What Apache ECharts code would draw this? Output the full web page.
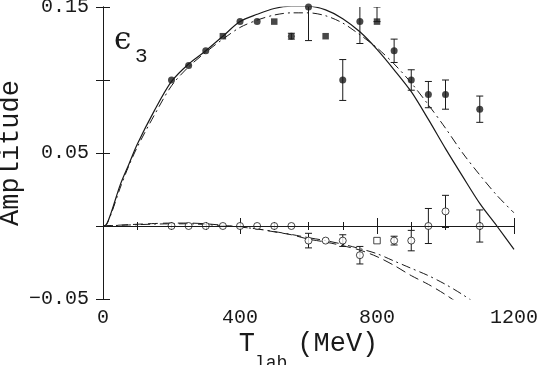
<html lang="en">
<head>
  <meta charset="UTF-8">
  <title>epsilon 3 amplitude</title>
  <style>
    html, body { margin: 0; padding: 0; background: #fff; }
    #chart { width: 538px; height: 365px; }
  </style>
</head>
<body>
  <div id="chart"></div>
  <script src="https://cdn.jsdelivr.net/npm/echarts@6/dist/echarts.min.js"></script>
  <script>
    // model curves (T_lab in MeV)
    var curveX = [0, 10, 25, 50, 75, 100, 150, 200, 250, 300, 350, 400, 450, 500, 550, 600,
      650, 700, 750, 800, 850, 900, 950, 1000, 1050, 1100, 1150, 1200];
    var solidUpper = [0, 0.001, 0.010, 0.028, 0.042, 0.056, 0.079, 0.099, 0.111, 0.120, 0.130, 0.140,
      0.145, 0.149, 0.1505, 0.1505, 0.148, 0.142, 0.133, 0.121, 0.107, 0.092, 0.073, 0.053,
      0.034, 0.0155, 0.000, -0.016];
    var dashDotUpper = [0, 0.001, 0.009, 0.026, 0.041, 0.054, 0.076, 0.096, 0.109, 0.119, 0.128, 0.136,
      0.141, 0.1445, 0.146, 0.146, 0.144, 0.139, 0.131, 0.122, 0.111, 0.098, 0.083, 0.067,
      0.050, 0.035, 0.021, 0.009];
    var dashedLower = [0, 0.0001, 0.0003, 0.0006, 0.0009, 0.0012, 0.0017, 0.002, 0.002, 0.0015, 0.0005,
      -0.0007, -0.002, -0.004, -0.006, -0.009, -0.011, -0.0135, -0.0165, -0.021, -0.027, -0.034,
      -0.040, -0.047, -0.055, -0.063, -0.071, -0.080];
    var dashDotLower = [0, 0.0001, 0.0002, 0.0005, 0.0007, 0.0009, 0.0013, 0.0015, 0.0015, 0.001, 0.0003,
      -0.0007, -0.002, -0.0038, -0.0058, -0.008, -0.010, -0.0125, -0.0155, -0.019, -0.024, -0.029,
      -0.034, -0.040, -0.047, -0.055, -0.063, -0.071];

    // data points: filled symbols
    var filledX = [200, 250, 300, 350, 400, 450, 500, 550, 600, 650, 700, 750, 800, 850, 900, 950, 1000, 1100];
    var filledY = [0.100, 0.110, 0.120, 0.130, 0.140, 0.140, 0.140, 0.130, 0.150, 0.130, 0.100, 0.140,
      0.140, 0.120, 0.100, 0.090, 0.090, 0.080];
    var filledErrLo = [0, 0, 0, 0, 0, 0, 0, 0.002, 0.023, 0, 0.014, 0.015, 0, 0.008, 0.007, 0.009, 0.010, 0.009];
    var filledErrHi = [0, 0, 0, 0, 0, 0, 0, 0.002, 0.023, 0, 0.014, 0.015, 0.010, 0.008, 0.007, 0.009, 0.010, 0.009];
    var filledShape = ['c', 'c', 'c', 's', 'c', 'c', 's', 'c', 'c', 's', 'c', 'c', 's', 'c', 'c', 'c', 'c', 'c'];

    // data points: open symbols
    var openX = [200, 250, 300, 350, 400, 450, 500, 550, 600, 650, 700, 750, 800, 850, 900, 950, 1000, 1100];
    var openY = [0, 0, 0, 0, 0, 0, 0, 0, -0.010, -0.010, -0.010, -0.020, -0.010, -0.010, -0.010, 0, 0.010, 0];
    var openErr = [0, 0, 0, 0, 0, 0, 0, 0, 0.005, 0, 0.004, 0.006, 0, 0.003, 0.007, 0.012, 0.011, 0.011];
    var openShape = ['c', 'c', 'c', 'c', 'c', 'c', 'c', 'c', 'c', 'c', 'c', 'c', 's', 'c', 'c', 'c', 'c', 'c'];

    var xTicks = [0, 400, 800, 1200];
    var yTicks = [-0.05, 0, 0.05, 0.1, 0.15];

    var ink = '#1a1a1a';
    var mono = '"Liberation Mono", "DejaVu Sans Mono", monospace';

    function pairs(xs, ys) {
      return xs.map(function (x, i) { return [x, ys[i]]; });
    }

    var errData = [];
    filledX.forEach(function (x, i) {
      if (filledErrLo[i] || filledErrHi[i]) errData.push([x, filledY[i] - filledErrLo[i], filledY[i] + filledErrHi[i]]);
    });
    openX.forEach(function (x, i) {
      if (openErr[i]) errData.push([x, openY[i] - openErr[i], openY[i] + openErr[i]]);
    });

    function pointData(xs, ys, shapes, filled) {
      return xs.map(function (x, i) {
        var sq = shapes[i] === 's';
        return {
          value: [x, ys[i]],
          symbol: sq ? 'rect' : 'circle',
          symbolSize: sq ? 6.5 : 7,
          itemStyle: filled ? { color: ink } : { color: '#fff', borderColor: ink, borderWidth: 1 }
        };
      });
    }

    // only every other y tick carries a label (0.15, 0.05, -0.05)
    function yLabel(v) {
      var k = Math.round(v * 100);
      if (k % 10 === 0) return '';
      return (k < 0 ? '\u2212' : '') + Math.abs(v).toFixed(2);
    }

    var baseX = {
      type: 'value', min: xTicks[0], max: xTicks[xTicks.length - 1], interval: 400,
      axisLine: { lineStyle: { color: ink, width: 1 } },
      axisTick: { inside: true, length: 8, lineStyle: { color: ink } },
      minorTick: { show: true, splitNumber: 4, length: 4, lineStyle: { color: ink } },
      splitLine: { show: false }
    };
    var baseY = {
      type: 'value', min: yTicks[0], max: yTicks[yTicks.length - 1], interval: 0.05,
      axisLine: { lineStyle: { color: ink, width: 1 } },
      axisTick: { inside: true, length: 7, lineStyle: { color: ink } },
      splitLine: { show: false }
    };

    var chart = echarts.init(document.getElementById('chart'));
    chart.setOption({
      animation: false,
      backgroundColor: '#fff',
      grid: { left: 103, right: 24, top: 7, bottom: 66, containLabel: false, outerBoundsMode: 'none' },
      xAxis: [
        Object.assign({}, baseX, {
          position: 'bottom',
          axisLabel: { color: ink, fontFamily: mono, fontSize: 20, margin: 9, formatter: function (v) { return String(v); } },
          name: '{t|T}{s|lab}{n|(MeV)}',
          nameLocation: 'middle',
          nameGap: 31,
          nameMoveOverlap: false,
          nameTextStyle: {
            rich: {
              t: { fontFamily: mono, fontSize: 27, color: ink, lineHeight: 30, verticalAlign: 'top' },
              s: { fontFamily: mono, fontSize: 18, color: ink, lineHeight: 42, verticalAlign: 'bottom', padding: [0, 10, 0, 0] },
              n: { fontFamily: mono, fontSize: 27, color: ink, lineHeight: 30, verticalAlign: 'top' }
            }
          }
        }),
        Object.assign({}, baseX, { position: 'top', axisLabel: { show: false } })
      ],
      yAxis: [
        Object.assign({}, baseY, {
          position: 'left',
          axisLabel: { color: ink, fontFamily: mono, fontSize: 20, margin: 14, formatter: yLabel },
          name: 'Amplitude',
          nameLocation: 'middle',
          nameGap: 79,
          nameMoveOverlap: false,
          nameTextStyle: { fontFamily: mono, fontSize: 27, color: ink }
        }),
        Object.assign({}, baseY, { position: 'right', axisLabel: { show: false } })
      ],
      graphic: [
        { type: 'text', left: 114, top: 25, style: { text: '\u03f5', font: '31px "DejaVu Serif"', fill: ink } },
        { type: 'text', left: 135, top: 46, style: { text: '3', font: '21px ' + mono, fill: ink } }
      ],
      series: [
        {
          type: 'line', data: pairs(curveX, solidUpper), showSymbol: false, smooth: 0.3,
          lineStyle: { color: ink, width: 1.2 },
          markLine: {
            silent: true, symbol: 'none', label: { show: false },
            lineStyle: { color: ink, width: 1, type: 'solid' },
            data: [{ yAxis: 0 }]
          }
        },
        {
          type: 'line', data: pairs(curveX, dashDotUpper), showSymbol: false, smooth: 0.3,
          lineStyle: { color: ink, width: 1, type: [9, 4, 2, 4] }
        },
        {
          type: 'line', data: pairs(curveX, dashedLower), showSymbol: false, smooth: 0.3,
          lineStyle: { color: ink, width: 1, type: [10, 5] }
        },
        {
          type: 'line', data: pairs(curveX, dashDotLower), showSymbol: false, smooth: 0.3,
          lineStyle: { color: ink, width: 1, type: [9, 4, 2, 4] }
        },
        {
          type: 'custom', data: errData, clip: true, z: 3,
          renderItem: function (params, api) {
            var lo = api.coord([api.value(0), api.value(1)]);
            var hi = api.coord([api.value(0), api.value(2)]);
            var w = 3.5;
            var st = { stroke: ink, lineWidth: 1 };
            return {
              type: 'group',
              children: [
                { type: 'line', shape: { x1: lo[0], y1: lo[1], x2: hi[0], y2: hi[1] }, style: st },
                { type: 'line', shape: { x1: lo[0] - w, y1: lo[1], x2: lo[0] + w, y2: lo[1] }, style: st },
                { type: 'line', shape: { x1: hi[0] - w, y1: hi[1], x2: hi[0] + w, y2: hi[1] }, style: st }
              ]
            };
          }
        },
        { type: 'scatter', data: pointData(filledX, filledY, filledShape, true), z: 4 },
        { type: 'scatter', data: pointData(openX, openY, openShape, false), z: 4 }
      ]
    });
  </script>
</body>
</html>
